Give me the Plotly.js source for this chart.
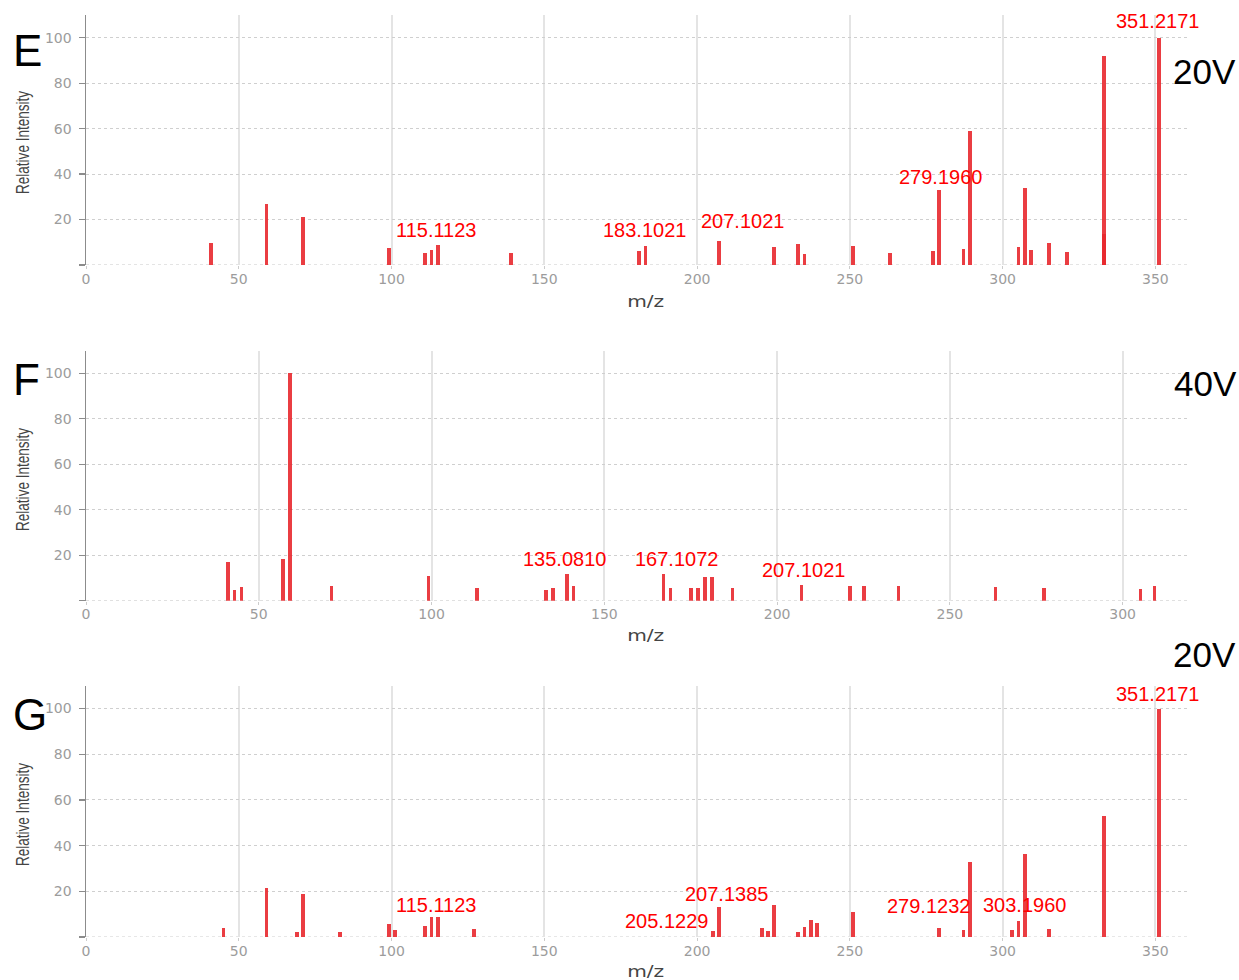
<!DOCTYPE html>
<html>
<head>
<meta charset="utf-8">
<script src="https://cdn.plot.ly/plotly-3.0.1.min.js"></script>
<style>html,body{margin:0;padding:0;background:#fff;}#chart{width:1239px;height:980px;}</style>
</head>
<body>
<div id="chart"></div>
<script>
// ---------- DATA ----------
// Panel E (20V)
const mzE = [41.04, 59.05, 71.09, 99.08, 111.08, 113.10, 115.11, 139.11, 181.10, 183.10, 207.10, 225.11, 233.15, 235.17, 251.16, 263.19, 277.18, 279.20, 287.19, 289.21, 305.20, 307.22, 309.20, 315.20, 321.19, 333.21, 333.30, 351.22];
const intE = [9.5, 26.8, 21.0, 7.3, 5.1, 6.6, 8.9, 5.4, 6.3, 8.3, 10.5, 8.0, 9.2, 4.8, 8.5, 5.1, 6.3, 32.9, 6.9, 58.8, 7.8, 33.9, 6.6, 9.5, 5.7, 91.8, 13.6, 100];
const labelTextE = ['115.1123', '183.1021', '207.1021', '279.1960', '351.2171'];
const labelPeakE = [115.11, 183.10, 207.10, 279.20, 351.22];

// Panel F (40V)
const mzF = [41.04, 43.02, 45.03, 57.07, 59.05, 71.09, 99.08, 113.10, 133.10, 135.08, 139.11, 141.10, 167.11, 169.12, 175.10, 177.09, 179.11, 181.10, 187.11, 207.10, 221.15, 225.11, 235.17, 263.20, 277.18, 305.21, 309.20];
const intF = [17.1, 4.8, 5.9, 18.2, 100, 6.3, 10.7, 5.7, 4.8, 5.7, 11.7, 6.3, 11.8, 5.4, 5.4, 5.4, 10.4, 10.4, 5.7, 7.0, 6.4, 6.4, 6.4, 6.1, 5.4, 5.0, 6.4];
const labelTextF = ['135.0810', '167.1072', '207.1021'];
const labelPeakF = [135.08, 167.11, 207.10];

// Panel G (20V)
const mzG = [45.03, 59.05, 69.07, 71.09, 83.09, 99.08, 101.10, 111.08, 113.10, 115.11, 127.11, 205.12, 207.14, 221.15, 223.13, 225.15, 233.15, 235.17, 237.15, 239.15, 251.16, 279.12, 287.19, 289.21, 303.20, 305.20, 307.22, 315.20, 333.21, 351.22];
const intG = [3.9, 21.3, 2.4, 18.7, 2.4, 5.7, 2.9, 5.0, 8.6, 8.6, 3.7, 2.5, 13.1, 3.8, 2.6, 14.2, 2.2, 4.4, 7.6, 6.1, 10.9, 4.1, 3.2, 33.0, 2.9, 7.2, 36.5, 3.5, 53.0, 100];
const labelTextG = ['115.1123', '205.1229', '207.1385', '279.1232', '303.1960', '351.2171'];
const labelPeakG = [115.11, 205.12, 207.14, 279.12, 303.20, 351.22];

const panelLetters = ['E', 'F', 'G'];
const voltages = ['20V', '40V', '20V'];
const yTickVals = [0, 20, 40, 60, 80, 100];
const yTickText = ['', '20', '40', '60', '80', '100'];
const yTitle = 'Relative Intensity';
const xTitle = 'm/z';

// ---------- STYLE / LAYOUT ----------
const BAR = 'rgba(232,40,46,0.9)';
const LABEL_RED = '#ff0000';
const TICKFONT = {family: 'DejaVu Sans, Verdana, sans-serif', size: 14, color: '#9c9c9c'};

function barTrace(x, y, xa, ya, w) {
  return {type: 'bar', x: x, y: y, xaxis: xa, yaxis: ya, width: w,
    marker: {color: BAR, line: {width: 0}}, hoverinfo: 'x+y', showlegend: false};
}

const traces = [
  barTrace(mzE, intE, 'x', 'y', 1.25),
  barTrace(mzF, intF, 'x2', 'y2', 1.05),
  barTrace(mzG, intG, 'x3', 'y3', 1.25)
];

function yAxis(domain, anchor) {
  return {domain: domain, anchor: anchor, range: [0, 110], tickmode: 'array',
    tickvals: yTickVals, ticktext: yTickText, showline: true, linecolor: '#8c8c8c', linewidth: 1.5,
    ticks: 'outside', ticklen: 6, tickcolor: '#8c8c8c', tickwidth: 1.2,
    showgrid: true, gridcolor: '#cfcfcf', griddash: 'dot', gridwidth: 1,
    zeroline: false, tickfont: TICKFONT, ticklabelstandoff: 4, fixedrange: true};
}
function xAxis(range, anchor) {
  return {domain: [0, 1], anchor: anchor, range: range, tick0: 0, dtick: 50,
    showgrid: true, gridcolor: '#e4e4e4', gridwidth: 2, showline: false, zeroline: false,
    ticks: 'outside', ticklen: 3, tickcolor: '#cccccc', tickfont: TICKFONT,
    ticklabelstandoff: -2, fixedrange: true};
}

// dotted baseline (grid line at intensity 0) for each panel
const shapes = ['y', 'y2', 'y3'].map((ya, i) => ({
  type: 'line', xref: (i === 0 ? 'x' : 'x' + (i + 1)) + ' domain', x0: 0, x1: 1,
  yref: ya, y0: 0, y1: 0, layer: 'below', line: {color: '#cfcfcf', width: 1, dash: 'dot'}
}));

// label offsets in px (dx right, dy up) relative to the labelled peak top
const offE = [[-2, 15], [-1, 16], [24, 20], [1, 13], [-2, 17]];
const offF = [[12, 29], [13, 15], [2, 15]];
const offG = [[-2, 12], [-46, 10], [8, 13], [-10, 22], [12, 25], [-2, 15]];

const annotations = [];
function addPeakLabels(texts, peaks, mz, inten, xr, yr, offs) {
  texts.forEach((t, i) => {
    let best = 0, bd = Infinity;
    mz.forEach((m, j) => { const d = Math.abs(m - peaks[i]); if (d < bd) { bd = d; best = j; } });
    annotations.push({xref: xr, yref: yr, x: mz[best], y: inten[best], text: t, showarrow: false,
      xanchor: 'center', yanchor: 'middle', xshift: offs[i][0], yshift: offs[i][1],
      font: {family: 'Liberation Sans, Arial, sans-serif', size: 20, color: LABEL_RED}});
  });
}
addPeakLabels(labelTextE, labelPeakE, mzE, intE, 'x', 'y', offE);
addPeakLabels(labelTextF, labelPeakF, mzF, intF, 'x2', 'y2', offF);
addPeakLabels(labelTextG, labelPeakG, mzG, intG, 'x3', 'y3', offG);

const letterPos = [[-0.0526, 0.961], [-0.0535, 0.6052], [-0.0508, 0.2413]];
const voltPos = [[1.0136, 0.9387], [1.0150, 0.6005], [1.0136, 0.3069]];
const yTitlePos = [0.8612, 0.4957, 0.1323];
const xTitlePos = [0.689, 0.3275, -0.0376];
for (let i = 0; i < 3; i++) {
  annotations.push({xref: 'paper', yref: 'paper', x: letterPos[i][0], y: letterPos[i][1], text: panelLetters[i],
    showarrow: false, xanchor: 'center', yanchor: 'middle',
    font: {family: 'Liberation Sans, Arial, sans-serif', size: 44, color: '#000'}});
  annotations.push({xref: 'paper', yref: 'paper', x: voltPos[i][0], y: voltPos[i][1], text: voltages[i],
    showarrow: false, xanchor: 'center', yanchor: 'middle',
    font: {family: 'Liberation Sans, Arial, sans-serif', size: 35, color: '#000'}});
  annotations.push({xref: 'paper', yref: 'paper', x: -0.0571, y: yTitlePos[i], text: yTitle, textangle: -90,
    showarrow: false, xanchor: 'center', yanchor: 'middle',
    font: {family: 'Liberation Sans, Arial, sans-serif', size: 18, color: '#444'}});
  annotations.push({xref: 'paper', yref: 'paper', x: 0.5077, y: xTitlePos[i], text: xTitle,
    showarrow: false, xanchor: 'center', yanchor: 'middle',
    font: {family: 'DejaVu Sans, sans-serif', size: 16, color: '#444'}});
}

const layout = {
  width: 1239, height: 980,
  margin: {l: 86, r: 50, t: 15, b: 43, pad: 0},
  paper_bgcolor: '#fff', plot_bgcolor: '#fff',
  barmode: 'overlay', bargap: 0,
  showlegend: false,
  xaxis: xAxis([0, 361], 'y'),
  yaxis: yAxis([0.7289, 1.0], 'x'),
  xaxis2: xAxis([0, 319.2], 'y2'),
  yaxis2: yAxis([0.3648, 0.6359], 'x2'),
  xaxis3: xAxis([0, 361], 'y3'),
  yaxis3: yAxis([0.0, 0.2726], 'x3'),
  shapes: shapes,
  annotations: annotations
};

Plotly.newPlot('chart', traces, layout, {displayModeBar: false, staticPlot: true}).then(() => {
  // the original figure uses condensed lettering for the axis titles: mimic its widths
  document.querySelectorAll('.annotation-text').forEach(el => {
    if (el.textContent === yTitle) { el.setAttribute('textLength', '103'); el.setAttribute('lengthAdjust', 'spacingAndGlyphs'); }
    if (el.textContent === xTitle) { el.setAttribute('textLength', '37'); el.setAttribute('lengthAdjust', 'spacingAndGlyphs'); }
  });
});
</script>
</body>
</html>
